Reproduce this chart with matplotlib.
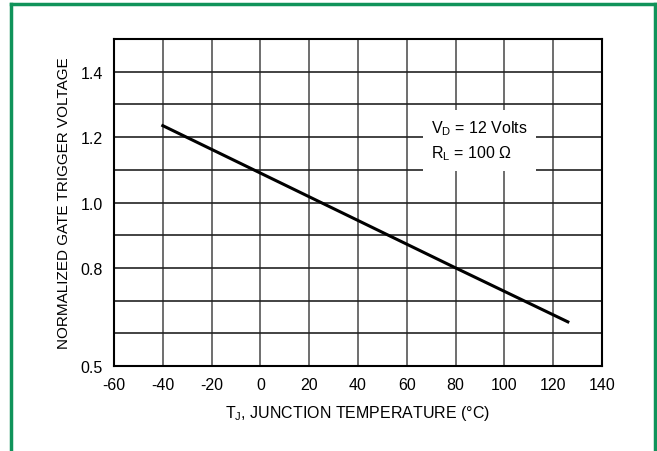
import matplotlib.pyplot as plt
from matplotlib.lines import Line2D

# values
temps = [-40, 0, 40, 80, 126]
vgt_norm = [1.235, 1.09, 0.945, 0.80, 0.635]

x_ticks = [-60, -40, -20, 0, 20, 40, 60, 80, 100, 120, 140]
y_grid = [0.5, 0.6, 0.7, 0.8, 0.9, 1.0, 1.1, 1.2, 1.3, 1.4, 1.5]
y_labels = {0.5: '0.5', 0.8: '0.8', 1.0: '1.0', 1.2: '1.2', 1.4: '1.4'}

plt.rcParams['font.family'] = ['Liberation Sans', 'DejaVu Sans']

fig = plt.figure(figsize=(6.57, 4.52), dpi=100)
ax = fig.add_axes([114 / 657, 85 / 452, 488 / 657, 327 / 452])

# green frame round the figure (bottom edge is cut off)
green = '#10935a'
top = 1 - 5 / 452
for xs, ys in [([11 / 657, 11 / 657], [0, top]),
               ([11 / 657, 655 / 657], [top, top]),
               ([655 / 657, 655 / 657], [0, top])]:
    fig.add_artist(Line2D(xs, ys, color=green, lw=2.5, transform=fig.transFigure))

for x in x_ticks:
    ax.axvline(x, color='#555555', lw=1.2, zorder=1)
for y in y_grid:
    ax.axhline(y, color='#222222', lw=1.2, zorder=1)

ax.plot(temps, vgt_norm, color='black', lw=2.2, zorder=3)

ax.set_xlim(-60, 140)
ax.set_ylim(0.5, 1.5)
ax.set_xticks(x_ticks)
ax.set_xticklabels([str(x) for x in x_ticks])
ax.set_yticks(list(y_labels.keys()))
ax.set_yticklabels(list(y_labels.values()))
ax.tick_params(length=0, labelsize=11.5, pad=8)
for s in ax.spines.values():
    s.set_linewidth(1.5)

ax.set_xlabel('T$_\\mathregular{J}$, JUNCTION TEMPERATURE (°C)', fontsize=11.5, labelpad=8)
ax.set_ylabel('NORMALIZED GATE TRIGGER VOLTAGE', fontsize=11, labelpad=7)

ax.text(70, 1.19, 'V$_\\mathregular{D}$ = 12 Volts\nR$_\\mathregular{L}$ = 100 Ω', fontsize=11.5,
        ha='left', va='center', linespacing=1.45, zorder=4,
        bbox=dict(facecolor='white', edgecolor='none', pad=6))

fig.savefig('out.png', dpi=100)
